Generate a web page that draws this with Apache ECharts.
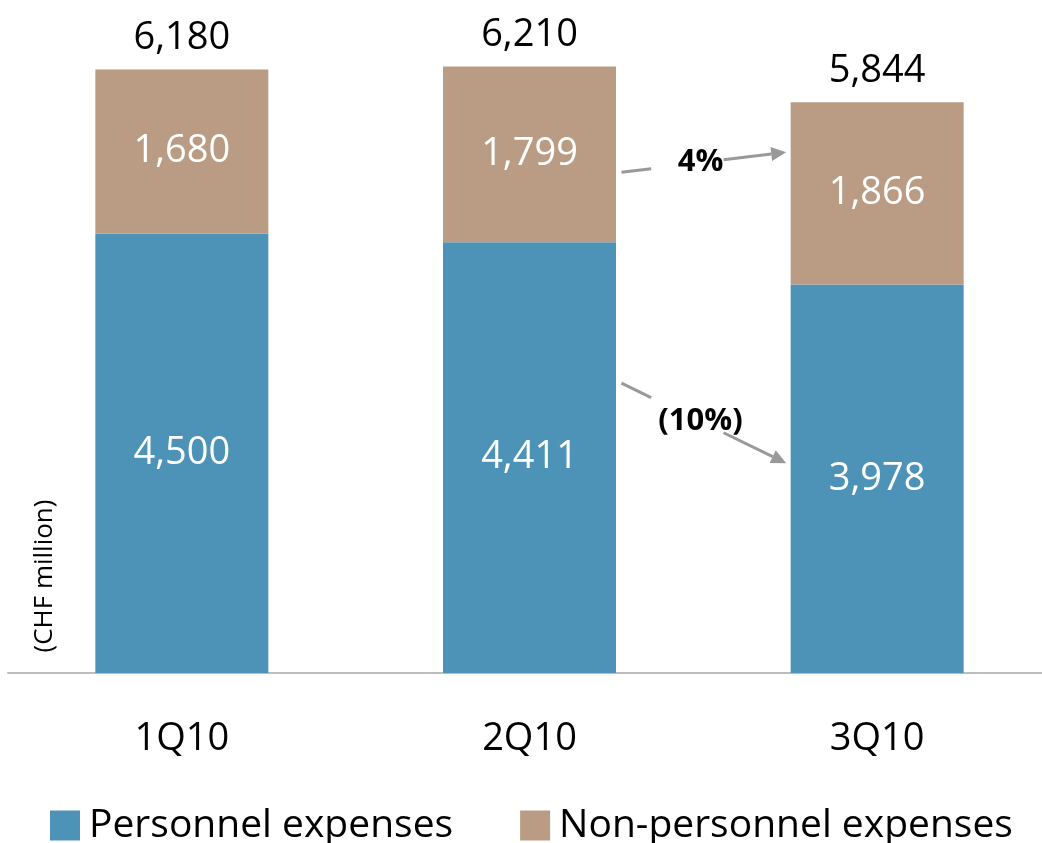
<!DOCTYPE html>
<html>
<head>
<meta charset="utf-8">
<script src="https://cdn.jsdelivr.net/npm/echarts@6/dist/echarts.min.js"></script>
<style>
  html, body { margin: 0; padding: 0; background: #fff; }
  #chart { width: 1042px; height: 843px; }
</style>
</head>
<body>
<div id="chart"></div>
<script>
const quarters = ["1Q10", "2Q10", "3Q10"]
const personnel = [4500, 4411, 3978]
const nonPersonnel = [1680, 1799, 1866]
const totals = [6180, 6210, 5844]
const changes = [
  { text: "4%", from: 5128, to: 5333 },
  { text: "(10%)", from: 2968, to: 2149 }
]

const fmt = v => v.toLocaleString("en-US")
const font = "'Open Sans', 'Noto Sans', sans-serif"

const chart = echarts.init(document.getElementById("chart"))

chart.setOption({
  animation: false,
  textStyle: { fontFamily: font },
  grid: { left: 8, width: 1043, top: 9, bottom: 170, outerBoundsMode: "none" },
  legend: {
    data: ["Personnel expenses", "Non-personnel expenses"],
    left: 45,
    top: 801,
    icon: "rect",
    itemWidth: 30,
    itemHeight: 30,
    itemGap: 67,
    textStyle: { fontSize: 39, color: "#000", fontFamily: font, padding: [0, 0, 0, 4] }
  },
  xAxis: {
    type: "category",
    data: quarters,
    axisLine: { lineStyle: { color: "#bdbdbd", width: 2 } },
    axisTick: { show: false },
    axisLabel: { color: "#000", fontSize: 38, margin: 47, fontFamily: font }
  },
  yAxis: {
    type: "value",
    min: 0,
    max: 6800,
    axisLine: { show: false },
    axisTick: { show: false },
    axisLabel: { show: false },
    splitLine: { show: false }
  },
  series: [
    {
      name: "Personnel expenses",
      type: "bar",
      stack: "cost",
      barWidth: 173,
      data: personnel,
      itemStyle: { color: "#4c93b7" },
      label: { show: true, position: "inside", color: "#fff", fontSize: 38, formatter: p => fmt(p.value) }
    },
    {
      name: "Non-personnel expenses",
      type: "bar",
      stack: "cost",
      barWidth: 173,
      data: nonPersonnel,
      itemStyle: { color: "#b99c83" },
      label: { show: true, position: "inside", color: "#fff", fontSize: 38, formatter: p => fmt(p.value) }
    },
    {
      name: "Total",
      type: "bar",
      barWidth: 173,
      barGap: "-100%",
      data: totals,
      z: 0,
      itemStyle: { color: "rgba(0,0,0,0)" },
      label: { show: true, position: "top", distance: 12, color: "#000", fontSize: 38, formatter: p => fmt(p.value) }
    }
  ]
})

// y-axis unit label and change arrows between 2Q10 and 3Q10
function arrowParts(x1, y1, x2, y2, label) {
  const dx = x2 - x1, dy = y2 - y1
  const len = Math.sqrt(dx * dx + dy * dy)
  const ux = dx / len, uy = dy / len
  const at = t => [x1 + dx * t, y1 + dy * t]
  const a = at(0), b = at(0.18), c = at(0.62)
  const head = 15, half = 7
  const base = [x2 - ux * head, y2 - uy * head]
  const line = { stroke: "#999", lineWidth: 3 }
  const mid = at(0.48)
  return [
    { type: "line", shape: { x1: a[0], y1: a[1], x2: b[0], y2: b[1] }, style: line },
    { type: "line", shape: { x1: c[0], y1: c[1], x2: base[0], y2: base[1] }, style: line },
    { type: "polygon", shape: { points: [[x2, y2], [base[0] - uy * half, base[1] + ux * half], [base[0] + uy * half, base[1] - ux * half]] }, style: { fill: "#999" } },
    { type: "text", x: mid[0], y: mid[1], style: { text: label, font: "bold 31px " + font, fill: "#000", align: "center", verticalAlign: "middle" } }
  ]
}

const xa = chart.convertToPixel({ xAxisIndex: 0 }, quarters[1])
const xb = chart.convertToPixel({ xAxisIndex: 0 }, quarters[2])
let elements = [
  { type: "text", x: 45, y: 576, rotation: Math.PI / 2, style: { text: "(CHF million)", font: "26px " + font, fill: "#000", align: "center", verticalAlign: "middle" } }
]
changes.forEach(c => {
  const y1 = chart.convertToPixel({ yAxisIndex: 0 }, c.from)
  const y2 = chart.convertToPixel({ yAxisIndex: 0 }, c.to)
  elements = elements.concat(arrowParts(xa + 92, y1, xb - 91, y2, c.text))
})
chart.setOption({ graphic: elements })
</script>
</body>
</html>
